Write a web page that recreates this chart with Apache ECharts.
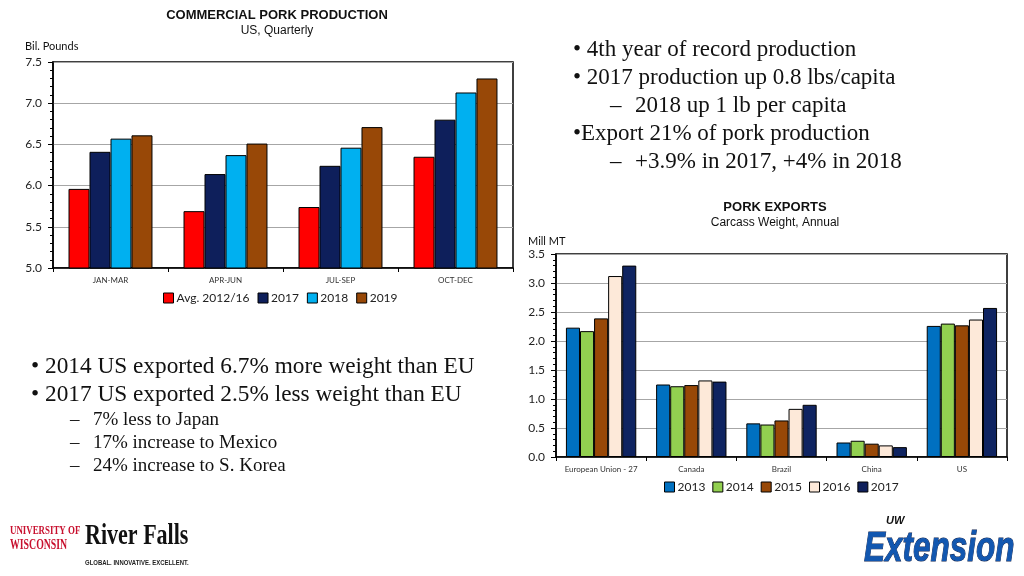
<!DOCTYPE html>
<html>
<head>
<meta charset="utf-8">
<script src="https://cdn.jsdelivr.net/npm/echarts@6/dist/echarts.min.js"></script>
<style>
html,body{margin:0;padding:0;background:#fff;}
#c{width:1024px;height:576px;}
</style>
</head>
<body>
<div id="c"></div>
<script>
// ---- Chart 1: Commercial pork production (Bil. Pounds) ----
var quarters = ['JAN-MAR', 'APR-JUN', 'JUL-SEP', 'OCT-DEC'];
var prodAvg = [5.96, 5.69, 5.74, 6.35];
var prod2017 = [6.41, 6.14, 6.24, 6.80];
var prod2018 = [6.57, 6.37, 6.46, 7.13];
var prod2019 = [6.61, 6.51, 6.71, 7.30];
var prodNames = ['Avg. 2012/16', '2017', '2018', '2019'];
var prodTicks = [5.0, 5.5, 6.0, 6.5, 7.0, 7.5];

// ---- Chart 2: Pork exports (Mill MT) ----
var exporters = ['European Union - 27', 'Canada', 'Brazil', 'China', 'US'];
var exp2013 = [2.23, 1.25, 0.58, 0.25, 2.26];
var exp2014 = [2.17, 1.22, 0.56, 0.28, 2.30];
var exp2015 = [2.39, 1.24, 0.63, 0.23, 2.27];
var exp2016 = [3.12, 1.32, 0.83, 0.20, 2.37];
var exp2017 = [3.30, 1.30, 0.90, 0.17, 2.57];
var expNames = ['2013', '2014', '2015', '2016', '2017'];
var expTicks = [0.0, 0.5, 1.0, 1.5, 2.0, 2.5, 3.0, 3.5];

var prodColors = ['#FF0000', '#0E1F5B', '#00B0F0', '#984807'];
var expColors = ['#0070C0', '#92D050', '#984807', '#FDE9D9', '#0F2461'];

var chart = echarts.init(document.getElementById('c'), null, {renderer: 'canvas'});

var labelFont = 'Lato';
function barSeries(name, data, color, idx) {
  return {
    type: 'bar', name: name, data: data,
    xAxisIndex: idx, yAxisIndex: idx,
    barGap: '0%', barCategoryGap: idx === 0 ? '27%' : '22%',
    itemStyle: {color: color, borderColor: '#000', borderWidth: 1},
    emphasis: {disabled: true}, animation: false
  };
}

var series = [];
[prodAvg, prod2017, prod2018, prod2019].forEach(function (d, i) {
  series.push(barSeries(prodNames[i], d, prodColors[i], 0));
});
[exp2013, exp2014, exp2015, exp2016, exp2017].forEach(function (d, i) {
  series.push(barSeries(expNames[i], d, expColors[i], 1));
});

function yAxis(idx, ticks) {
  return {
    type: 'value', gridIndex: idx,
    min: ticks[0], max: ticks[ticks.length - 1], interval: 0.5,
    axisLine: {show: true, lineStyle: {color: '#000', width: 1.5}},
    axisTick: {show: true, length: 5, lineStyle: {color: '#000'}},
    minorTick: {show: true, splitNumber: 5, length: 3, lineStyle: {color: '#000'}},
    splitLine: {show: true, lineStyle: {color: '#A6A6A6', width: 1}},
    axisLabel: {fontSize: 12, color: '#222', fontFamily: labelFont, margin: 11,
      formatter: function (v) { return v.toFixed(1); }}
  };
}
function xAxis(idx, cats) {
  return {
    type: 'category', gridIndex: idx, data: cats,
    axisLine: {show: true, lineStyle: {color: '#000', width: 1.5}},
    axisTick: {show: true, length: 4, lineStyle: {color: '#000'}},
    axisLabel: {fontSize: 8, color: '#333', fontFamily: labelFont, margin: 8, interval: 0},
    splitLine: {show: false}
  };
}

function txt(text, x, y, size, opts) {
  opts = opts || {};
  return {
    type: 'text', silent: true,
    x: x, y: y,
    scaleX: opts.scaleX || 1,
    style: {
      text: text, x: 0, y: 0,
      fontSize: size,
      fontFamily: opts.family || 'Liberation Serif',
      fontWeight: opts.weight || 'normal',
      fontStyle: opts.style || 'normal',
      fill: opts.fill || '#111',
      align: opts.align || 'left',
      verticalAlign: 'middle',
      stroke: opts.stroke || null,
      lineWidth: opts.lineWidth || 0
    }
  };
}

var graphics = [
  // chart 1 titles
  txt('COMMERCIAL PORK PRODUCTION', 277, 15, 13, {family: 'Liberation Sans', weight: 'bold', align: 'center'}),
  txt('US, Quarterly', 277, 31, 12, {family: 'Liberation Sans', align: 'center'}),
  txt('Bil. Pounds', 25, 46, 11, {family: labelFont}),
  // chart 2 titles
  txt('PORK EXPORTS', 775, 207, 13, {family: 'Liberation Sans', weight: 'bold', align: 'center'}),
  txt('Carcass Weight, Annual', 775, 223, 12, {family: 'Liberation Sans', align: 'center'}),
  txt('Mill MT', 528, 241, 11, {family: labelFont}),
  // right bullets
  txt('\u2022 4th year of record production', 573, 50, 23),
  txt('\u2022 2017 production up 0.8 lbs/capita', 573, 78, 23),
  txt('\u2013', 610, 106, 23),
  txt('2018 up 1 lb per capita', 635, 106, 23),
  txt('\u2022Export 21% of pork production', 573, 134, 23),
  txt('\u2013', 610, 162, 23),
  txt('+3.9% in 2017, +4% in 2018', 635, 162, 23),
  // left bullets
  txt('\u2022 2014 US exported 6.7% more weight than EU', 31, 367, 23.3),
  txt('\u2022 2017 US exported 2.5% less weight than EU', 31, 395, 23.3),
  txt('\u2013', 70, 420, 19),
  txt('7% less to Japan', 93, 420, 19),
  txt('\u2013', 70, 443, 19),
  txt('17% increase to Mexico', 93, 443, 19),
  txt('\u2013', 70, 466, 19),
  txt('24% increase to S. Korea', 93, 466, 19),
  // UW River Falls logo
  txt('UNIVERSITY OF', 10, 531, 12, {weight: 'bold', fill: '#C8102E', scaleX: 0.74}),
  txt('WISCONSIN', 10, 545, 14, {weight: 'bold', fill: '#C8102E', scaleX: 0.7}),
  txt('River Falls', 85, 537, 29, {weight: 'bold', fill: '#111', scaleX: 0.76}),
  txt('GLOBAL. INNOVATIVE. EXCELLENT.', 85, 563, 7, {weight: 'bold', fill: '#222', family: 'Liberation Sans', scaleX: 0.85}),
  // UW Extension logo
  txt('UW', 886, 521, 11, {weight: 'bold', style: 'italic', fill: '#111', family: 'Liberation Sans'}),
  txt('Extension', 864, 549, 42, {weight: 'bold', style: 'italic', fill: '#1257B0', family: 'Liberation Sans', stroke: '#0B1E4A', lineWidth: 1, scaleX: 0.75})
];

var option = {
  backgroundColor: '#fff',
  animation: false,
  textStyle: {fontFamily: labelFont},
  grid: [
    {left: 53, top: 62, width: 460, height: 206, show: true, borderColor: '#000', borderWidth: 1.5, backgroundColor: '#fff'},
    {left: 556, top: 254, width: 451, height: 203, show: true, borderColor: '#000', borderWidth: 1.5, backgroundColor: '#fff'}
  ],
  xAxis: [xAxis(0, quarters), xAxis(1, exporters)],
  yAxis: [yAxis(0, prodTicks), yAxis(1, expTicks)],
  legend: [
    {data: prodNames, left: 163, top: 292, padding: 0, itemWidth: 10, itemHeight: 10, itemGap: 8,
      icon: 'rect', textStyle: {fontSize: 12, color: '#222', fontFamily: labelFont, padding: [0, 0, 0, -2]},
      selectedMode: false, itemStyle: {borderColor: '#000', borderWidth: 1}},
    {data: expNames, left: 664, top: 481, padding: 0, itemWidth: 10, itemHeight: 10, itemGap: 7,
      icon: 'rect', textStyle: {fontSize: 12, color: '#222', fontFamily: labelFont, padding: [0, 0, 0, -2]},
      selectedMode: false, itemStyle: {borderColor: '#000', borderWidth: 1}}
  ],
  graphic: graphics,
  series: series
};
chart.setOption(option);
</script>
</body>
</html>
